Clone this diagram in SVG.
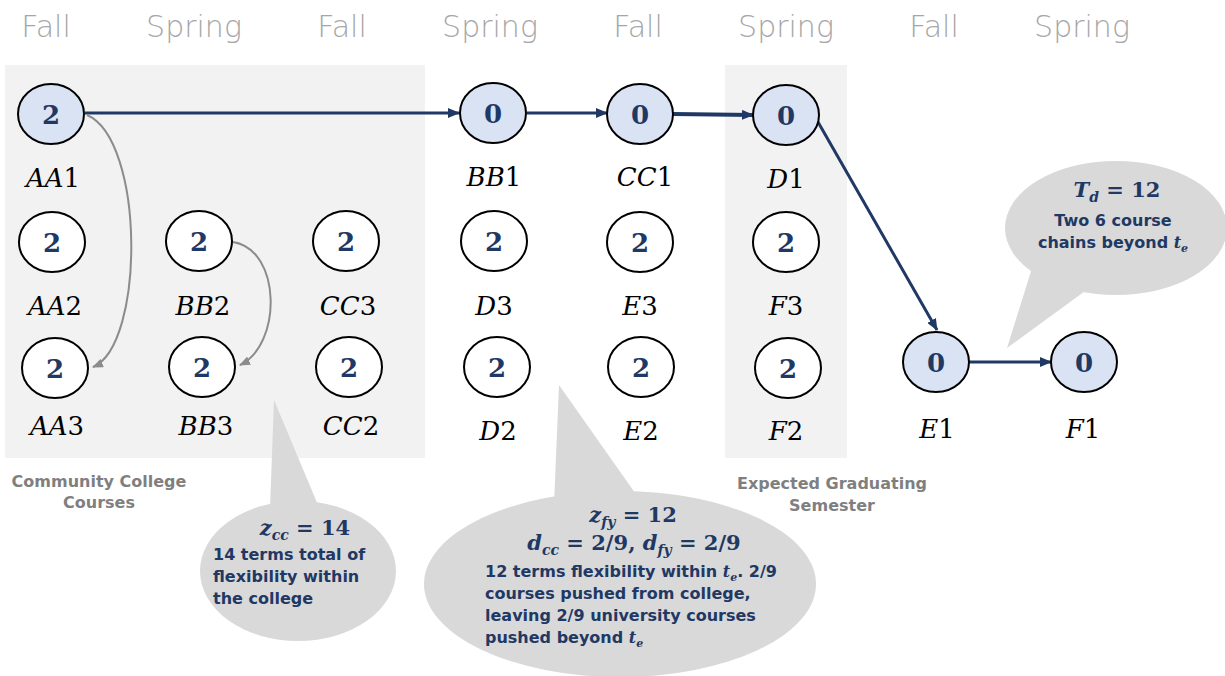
<svg xmlns="http://www.w3.org/2000/svg" width="1225" height="676" viewBox="0 0 1225 676">
  <style>
    .term { font-family: "DejaVu Sans", "Liberation Sans", sans-serif; font-weight: 200; font-size: 30px; fill: #A6A6A6; text-anchor: middle; }
    .panel { fill: #F2F2F2; }
    .node { stroke: #000; stroke-width: 2; fill: #FFFFFF; }
    .node.hot { fill: #DAE3F3; }
    .num { font-family: "DejaVu Serif", "Liberation Serif", serif; font-weight: bold; font-size: 26px; fill: #1F3864; text-anchor: middle; }
    .lbl { font-family: "DejaVu Serif", "Liberation Serif", serif; font-style: italic; font-size: 26px; fill: #000; text-anchor: middle; }
    .lbl .d { font-style: normal; }
    .main { stroke: #203864; stroke-width: 3; fill: none; }
    .thick { stroke-width: 4; }
    .soft { stroke: #8C8C8C; stroke-width: 2; fill: none; }
    .bubble { fill: #D9D9D9; }
    .note { font-family: "DejaVu Sans", "Liberation Sans", sans-serif; font-weight: bold; font-size: 16px; fill: #1F3864; }
    .math { font-family: "DejaVu Serif", "Liberation Serif", serif; font-weight: bold; font-size: 21px; fill: #1F3864; text-anchor: middle; }
    .it { font-style: italic; }
    .cap { font-family: "DejaVu Sans", "Liberation Sans", sans-serif; font-weight: bold; font-size: 16px; fill: #7F7F7F; text-anchor: middle; }
  </style>
  <defs>
    <marker id="navyHead" markerWidth="12" markerHeight="10" refX="11" refY="5" orient="auto" markerUnits="userSpaceOnUse">
      <path d="M0,0 L12,5 L0,10 Z" fill="#203864"/>
    </marker>
    <marker id="greyHead" markerWidth="11" markerHeight="9" refX="10" refY="4.5" orient="auto" markerUnits="userSpaceOnUse">
      <path d="M0,0 L11,4.5 L0,9 Z" fill="#8C8C8C"/>
    </marker>
  </defs>

  <rect width="1225" height="676" fill="#FFFFFF"/>

  <!-- shaded term bands -->
  <rect class="panel" x="5" y="65" width="420" height="393"/>
  <rect class="panel" x="725" y="65" width="122" height="393"/>

  <!-- term headings -->
  <g id="terms">
    <text class="term" x="46" y="37">Fall</text>
    <text class="term" x="194" y="37">Spring</text>
    <text class="term" x="342" y="37">Fall</text>
    <text class="term" x="490" y="37">Spring</text>
    <text class="term" x="638" y="37">Fall</text>
    <text class="term" x="786" y="37">Spring</text>
    <text class="term" x="934" y="37">Fall</text>
    <text class="term" x="1082" y="37">Spring</text>
  </g>

  <!-- callouts -->
  <g id="callout-cc">
    <path class="bubble" d="M274,400 L270,508 L318,505 Z"/>
    <ellipse class="bubble" cx="298" cy="571" rx="98" ry="70"/>
    <text class="math" x="305" y="535"><tspan class="it">z</tspan><tspan class="it" font-size="14" dy="5">cc</tspan><tspan dy="-5"> = 14</tspan></text>
    <text class="note" x="213" y="560">14 terms total of</text>
    <text class="note" x="213" y="582">flexibility within</text>
    <text class="note" x="213" y="604">the college</text>
  </g>

  <g id="callout-fy">
    <path class="bubble" d="M559,385 L554,505 L640,500 Z"/>
    <ellipse class="bubble" cx="620" cy="584" rx="196" ry="93"/>
    <text class="math" x="633" y="522"><tspan class="it">z</tspan><tspan class="it" font-size="14" dy="5">fy</tspan><tspan dy="-5"> = 12</tspan></text>
    <text class="math" x="634" y="550"><tspan class="it">d</tspan><tspan class="it" font-size="14" dy="5">cc</tspan><tspan dy="-5"> = 2/9, </tspan><tspan class="it">d</tspan><tspan class="it" font-size="14" dy="5">fy</tspan><tspan dy="-5"> = 2/9</tspan></text>
    <text class="note" x="485" y="577">12 terms flexibility within <tspan font-family="DejaVu Serif, serif" font-style="italic">t</tspan><tspan font-family="DejaVu Serif, serif" font-style="italic" font-size="11" dy="4">e</tspan><tspan dy="-4">. 2/9</tspan></text>
    <text class="note" x="485" y="599">courses pushed from college,</text>
    <text class="note" x="485" y="621">leaving 2/9 university courses</text>
    <text class="note" x="485" y="643">pushed beyond <tspan font-family="DejaVu Serif, serif" font-style="italic">t</tspan><tspan font-family="DejaVu Serif, serif" font-style="italic" font-size="11" dy="4">e</tspan></text>
  </g>

  <g id="callout-td">
    <path class="bubble" d="M1007,348 L1032,268 L1092,286 Z"/>
    <ellipse class="bubble" cx="1116" cy="228" rx="111" ry="67"/>
    <text class="math" x="1117" y="197"><tspan class="it">T</tspan><tspan class="it" font-size="14" dy="5">d</tspan><tspan dy="-5"> = 12</tspan></text>
    <text class="note" x="1113" y="226" text-anchor="middle">Two 6 course</text>
    <text class="note" x="1113" y="248" text-anchor="middle">chains beyond <tspan font-family="DejaVu Serif, serif" font-style="italic">t</tspan><tspan font-family="DejaVu Serif, serif" font-style="italic" font-size="11" dy="4">e</tspan></text>
  </g>

  <!-- band captions -->
  <text class="cap" x="99" y="487">Community College</text>
  <text class="cap" x="99" y="508">Courses</text>
  <text class="cap" x="832" y="489">Expected Graduating</text>
  <text class="cap" x="832" y="511">Semester</text>

  <!-- connectors -->
  <g id="connectors">
    <line class="main" x1="85" y1="113" x2="459" y2="113" marker-end="url(#navyHead)"/>
    <line class="main" x1="527" y1="113" x2="607" y2="113" marker-end="url(#navyHead)"/>
    <line class="main thick" x1="673" y1="114" x2="753" y2="115" marker-end="url(#navyHead)"/>
    <line class="main" x1="818" y1="122" x2="937" y2="330" marker-end="url(#navyHead)"/>
    <line class="main" x1="969" y1="362" x2="1051" y2="362" marker-end="url(#navyHead)"/>
    <path class="soft" d="M87,115 C145,140 145,345 93,367" marker-end="url(#greyHead)"/>
    <path class="soft" d="M233,242 C282,250 282,345 240,365" marker-end="url(#greyHead)"/>
  </g>

  <!-- course nodes -->
  <g id="AA1"><ellipse class="node hot" cx="51" cy="114" rx="33" ry="30"/><text class="num" x="51" y="124">2</text><text class="lbl" x="53" y="187">AA<tspan class="d">1</tspan></text></g>
  <g id="AA2"><ellipse class="node" cx="52" cy="242" rx="33" ry="30"/><text class="num" x="52" y="252">2</text><text class="lbl" x="55" y="315">AA<tspan class="d">2</tspan></text></g>
  <g id="AA3"><ellipse class="node" cx="55" cy="368" rx="33" ry="30"/><text class="num" x="55" y="378">2</text><text class="lbl" x="57" y="435">AA<tspan class="d">3</tspan></text></g>
  <g id="BB2"><ellipse class="node" cx="199" cy="241" rx="33" ry="30"/><text class="num" x="199" y="251">2</text><text class="lbl" x="203" y="315">BB<tspan class="d">2</tspan></text></g>
  <g id="BB3"><ellipse class="node" cx="202" cy="367" rx="33" ry="30"/><text class="num" x="202" y="377">2</text><text class="lbl" x="206" y="435">BB<tspan class="d">3</tspan></text></g>
  <g id="CC3"><ellipse class="node" cx="346" cy="241" rx="33" ry="30"/><text class="num" x="346" y="251">2</text><text class="lbl" x="348" y="315">CC<tspan class="d">3</tspan></text></g>
  <g id="CC2"><ellipse class="node" cx="349" cy="367" rx="33" ry="30"/><text class="num" x="349" y="377">2</text><text class="lbl" x="351" y="435">CC<tspan class="d">2</tspan></text></g>

  <g id="BB1"><ellipse class="node hot" cx="493" cy="113" rx="33" ry="30"/><text class="num" x="493" y="123">0</text><text class="lbl" x="494" y="186">BB<tspan class="d">1</tspan></text></g>
  <g id="D3"><ellipse class="node" cx="494" cy="241" rx="33" ry="30"/><text class="num" x="494" y="251">2</text><text class="lbl" x="494" y="315">D<tspan class="d">3</tspan></text></g>
  <g id="D2"><ellipse class="node" cx="497" cy="367" rx="33" ry="30"/><text class="num" x="497" y="377">2</text><text class="lbl" x="498" y="440">D<tspan class="d">2</tspan></text></g>
  <g id="CC1"><ellipse class="node hot" cx="640" cy="114" rx="33" ry="30"/><text class="num" x="640" y="124">0</text><text class="lbl" x="645" y="186">CC<tspan class="d">1</tspan></text></g>
  <g id="E3"><ellipse class="node" cx="640" cy="242" rx="33" ry="30"/><text class="num" x="640" y="252">2</text><text class="lbl" x="640" y="315">E<tspan class="d">3</tspan></text></g>
  <g id="E2"><ellipse class="node" cx="641" cy="367" rx="33" ry="30"/><text class="num" x="641" y="377">2</text><text class="lbl" x="641" y="440">E<tspan class="d">2</tspan></text></g>
  <g id="D1"><ellipse class="node hot" cx="786" cy="115" rx="33" ry="30"/><text class="num" x="786" y="125">0</text><text class="lbl" x="786" y="188">D<tspan class="d">1</tspan></text></g>
  <g id="F3"><ellipse class="node" cx="786" cy="242" rx="33" ry="30"/><text class="num" x="786" y="252">2</text><text class="lbl" x="786" y="315">F<tspan class="d">3</tspan></text></g>
  <g id="F2"><ellipse class="node" cx="788" cy="368" rx="33" ry="30"/><text class="num" x="788" y="378">2</text><text class="lbl" x="786" y="440">F<tspan class="d">2</tspan></text></g>
  <g id="E1"><ellipse class="node hot" cx="936" cy="362" rx="33" ry="30"/><text class="num" x="936" y="372">0</text><text class="lbl" x="937" y="438">E<tspan class="d">1</tspan></text></g>
  <g id="F1"><ellipse class="node hot" cx="1084" cy="362" rx="33" ry="30"/><text class="num" x="1084" y="372">0</text><text class="lbl" x="1083" y="438">F<tspan class="d">1</tspan></text></g>
</svg>
